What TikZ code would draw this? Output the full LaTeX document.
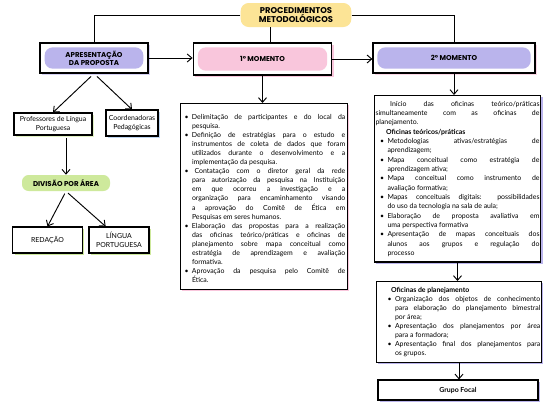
\documentclass[tikz,border=0pt]{standalone}
\usepackage{fontspec}
\setmainfont{Lato}
\newfontfamily\headfont{Poppins}
\usetikzlibrary{arrows.meta,shadows}

\definecolor{blobyellow}{RGB}{252,228,150}
\definecolor{blobpurple}{RGB}{186,180,236}
\definecolor{blobpink}{RGB}{249,198,220}
\definecolor{blobgreen}{RGB}{206,233,156}
\definecolor{shadblue}{RGB}{190,214,242}

\newlength\bhang \setlength\bhang{7pt}
\newcommand\bitem{\par\hangindent=\bhang\hangafter=1\noindent\hbox to \bhang{\hskip1.5pt\textbullet\hss}}
\newcommand\loosetext{\tolerance=10000 \hyphenpenalty=10000 }

\tikzset{
  blob/.style={fill=#1, rounded corners=6pt, align=center, inner sep=0pt,
    font=\headfont\bfseries\fontsize{5.3}{6.2}\selectfont},
  framebox/.style={draw, line width=0.9pt, fill=white},
  smallbox/.style={draw, line width=0.8pt, fill=white, align=center, inner sep=1pt,
    font=\fontsize{5.2}{6.4}\selectfont},
  textbox/.style={draw, line width=0.9pt, fill=white, align=justify, inner xsep=1.5pt, inner ysep=5pt,
    font=\fontsize{5.2}{6.8}\selectfont, execute at begin node=\loosetext},
  shad/.style={drop shadow={shadow xshift=1.3pt, shadow yshift=-1.3pt, fill=#1, opacity=1}},
  arr/.style={-{Straight Barb[length=3.5pt,width=6pt]}, line width=0.7pt},
  link/.style={line width=0.7pt},
}

\begin{document}
\begin{tikzpicture}[x=0.75pt,y=0.75pt,yscale=-1,xscale=1]
\path[fill=white] (0,0) rectangle (545,412);

% title
\node[blob=blobyellow, minimum width=83pt, minimum height=18pt,
  font=\headfont\bfseries\fontsize{6.3}{7}\selectfont] (title) at (296,15) {PROCEDIMENTOS\\METODOLÓGICOS};

% heading boxes
\node[framebox, shad=blobpurple!60, minimum width=81pt, minimum height=22.5pt] (apresbox) at (94,58) {};
\node[blob=blobpurple, minimum width=74pt, minimum height=16pt] (apres) at (apresbox) {APRESENTAÇÃO\\DA PROPOSTA};

\node[framebox, shad=blobpink, minimum width=104pt, minimum height=24pt] (mom1box) at (262.5,59) {};
\node[blob=blobpink, minimum width=97pt, minimum height=17.5pt] (mom1) at (mom1box) {1º MOMENTO};

\node[framebox, shad=blobpink!70, minimum width=121.5pt, minimum height=22.5pt] (mom2box) at (454,58) {};
\node[blob=blobpurple, minimum width=115pt, minimum height=16pt] (mom2) at (mom2box) {2º MOMENTO};

% left branch
\node[smallbox, shad=blobgreen!60, minimum width=58.5pt, minimum height=16.5pt] (prof) at (53,124) {Professores de Língua\\Portuguesa};
\node[smallbox, shad=shadblue, minimum width=39pt, minimum height=19.5pt] (coord) at (132,123) {Coordenadoras\\Pedagógicas};
\node[blob=blobgreen, minimum width=66pt, minimum height=12pt, rounded corners=5pt] (divisao) at (66,183) {DIVISÃO POR ÁREA};
\node[smallbox, shad=blobgreen, minimum width=52pt, minimum height=19.5pt] (red) at (47.5,240) {REDAÇÃO};
\node[smallbox, shad=blobgreen, minimum width=45pt, minimum height=19.5pt] (ling) at (119,240) {LÍNGUA\\PORTUGUESA};

% 1o momento
\node[textbox, shad=blobpink, text width=122pt, anchor=north] (txt1) at (264,103) {%
\bitem Delimitação de participantes e do local da\linebreak pesquisa.
\bitem Definição de estratégias para o estudo e\linebreak instrumentos de coleta de dados que foram\linebreak utilizados durante o desenvolvimento e a\linebreak implementação da pesquisa.
\bitem\hspace{2pt}Contatação com o diretor geral da rede\linebreak para autorização da pesquisa na Instituição\linebreak em que ocorreu a investigação e a\linebreak organização para encaminhamento visando\linebreak a aprovação do Comitê de Ética em\linebreak Pesquisas em seres humanos.
\bitem Elaboração das propostas para a realização\linebreak das oficinas teórico/práticas e oficinas de\linebreak planejamento sobre mapa conceitual como\linebreak estratégia de aprendizagem e avaliação\linebreak formativa.
\bitem Aprovação da pesquisa pelo Comitê de\linebreak Ética.\par};

% 2o momento
\node[textbox, shad=blobpurple, text width=123pt, inner xsep=1pt, inner ysep=4pt, anchor=north,
  font=\fontsize{5.2}{7}\selectfont] (txt2) at (457.5,95) {%
\noindent\hspace*{11pt}Início das oficinas teórico/práticas\linebreak simultaneamente com as oficinas de\linebreak planejamento.\par
\noindent\hspace*{8pt}\textbf{Oficinas teóricos/práticas}\par
\leftskip=2pt
\bitem Metodologias ativas/estratégias de\linebreak aprendizagem;
\bitem Mapa conceitual como estratégia de\linebreak aprendizagem ativa;
\bitem Mapa conceitual como instrumento de\linebreak avaliação formativa;
\bitem Mapas conceituais digitais: possibilidades\linebreak do uso da tecnologia na sala de aula;
\bitem Elaboração de proposta avaliativa em\linebreak uma perspectiva formativa
\bitem Apresentação de mapas conceituais dos\linebreak alunos aos grupos e regulação do\linebreak processo\par};

\node[textbox, shad=blobpurple, text width=122pt, inner xsep=1pt, inner ysep=4pt, anchor=north] (plan) at (459,281) {%
\leftskip=6pt
\noindent\hspace*{4pt}\textbf{Oficinas de planejamento}
\bitem Organização dos objetos de conhecimento\linebreak para elaboração do planejamento bimestral\linebreak por área;
\bitem Apresentação dos planejamentos por área\linebreak para a formadora;
\bitem Apresentação final dos planejamentos para\linebreak os grupos.\par};

\node[smallbox, shad=blobpurple, minimum width=120pt, minimum height=15pt, font=\bfseries\fontsize{5.2}{6.4}\selectfont] (grupo) at (458,390) {Grupo Focal};

% connectors
\draw[link] (title.west) -| (apresbox.north);
\draw[link] (title.east) -| (mom2box.north);
\draw[link] ([xshift=6pt]mom1box.north) -- ([xshift=6pt]mom1box.north |- title.south);
\draw[arr] (apresbox.east) -- (apresbox.east -| mom1box.west);
\draw[arr] (mom1box.east) -- (mom1box.east -| mom2box.west);
\draw[arr] (mom1box.south) -- (mom1box.south |- txt1.north);
\draw[arr] (mom2box.south) -- (mom2box.south |- txt2.north);
\draw[arr] (txt2.south) -- (txt2.south |- plan.north);
\draw[arr] (plan.south) -- (plan.south |- grupo.north);
\draw[arr, shorten <=3pt] (apresbox.south) -- (prof.north);
\draw[arr, shorten <=3pt] (apresbox.south) -- (coord.north);
\draw[arr, shorten <=2pt] (prof.south -| divisao.north) -- (divisao.north);
\draw[arr, shorten <=2pt] (divisao.south) -- (red.north);
\draw[arr, shorten <=2pt] (divisao.south) -- ([xshift=-10pt]ling.north);

\end{tikzpicture}
\end{document}
